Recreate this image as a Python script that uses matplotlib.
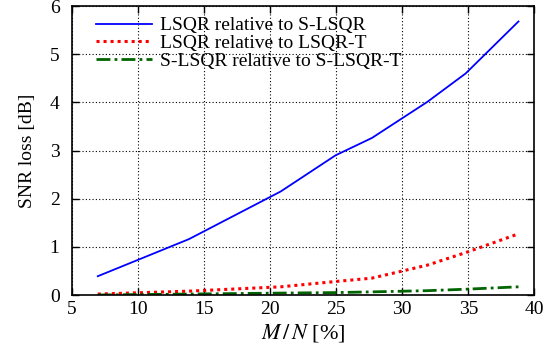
import matplotlib
matplotlib.use("Agg")
import matplotlib.pyplot as plt

# Data
mn_percent = [6.95, 13.85, 20.8, 24.95, 27.7, 31.9, 34.8, 38.8]
lsqr_vs_slsqr = [0.39, 1.16, 2.15, 2.90, 3.26, 4.01, 4.60, 5.68]
lsqr_vs_lsqrt = [0.02, 0.08, 0.17, 0.28, 0.35, 0.62, 0.88, 1.27]
slsqr_vs_slsqrt = [0.00, 0.02, 0.04, 0.05, 0.065, 0.09, 0.12, 0.17]
labels = ["LSQR relative to S-LSQR", "LSQR relative to LSQR-T", "S-LSQR relative to S-LSQR-T"]
xticks = [5, 10, 15, 20, 25, 30, 35, 40]
yticks = [0, 1, 2, 3, 4, 5, 6]

plt.rcParams['font.family'] = ['Liberation Serif', 'DejaVu Serif']
plt.rcParams['mathtext.fontset'] = 'stix'

fig = plt.figure(figsize=(5.57, 3.55), dpi=100)
ax = fig.add_axes([0.1293, 0.169, 0.830, 0.814])

ax.plot(mn_percent, lsqr_vs_slsqr, color='#0000ff', lw=1.3, label=labels[0])
ax.plot(mn_percent, lsqr_vs_lsqrt, color='#ff0000', lw=2.2, linestyle=(0, (1, 1.3)), label=labels[1])
ax.plot(mn_percent, slsqr_vs_slsqrt, color='#006400', lw=2.0, linestyle=(0, (5, 1.5, 1, 1.5)), label=labels[2])

ax.set_xlim(5, 40)
ax.set_ylim(0, 6)
ax.set_xticks(xticks)
ax.set_yticks(yticks)
ax.tick_params(direction='in', length=5, width=1.0, top=True, right=True, labelsize=14)
ax.tick_params(axis='x', pad=4)
ax.tick_params(axis='y', pad=9)
ax.grid(True, color='black', linestyle=(0, (1, 2)), lw=0.8)
for s in ax.spines.values():
    s.set_linewidth(1.2)

ax.set_xlabel(r'$M\,/\,N$ [%]', fontsize=16, labelpad=3)
ax.set_ylabel('SNR loss [dB]', fontsize=14, labelpad=10)

leg = ax.legend(loc='upper left', frameon=False, fontsize=14, handlelength=2.9,
                handletextpad=0.4, labelspacing=0.0, borderaxespad=0.0,
                bbox_to_anchor=(0.035, 0.99))

fig.savefig('out.png', dpi=100)
